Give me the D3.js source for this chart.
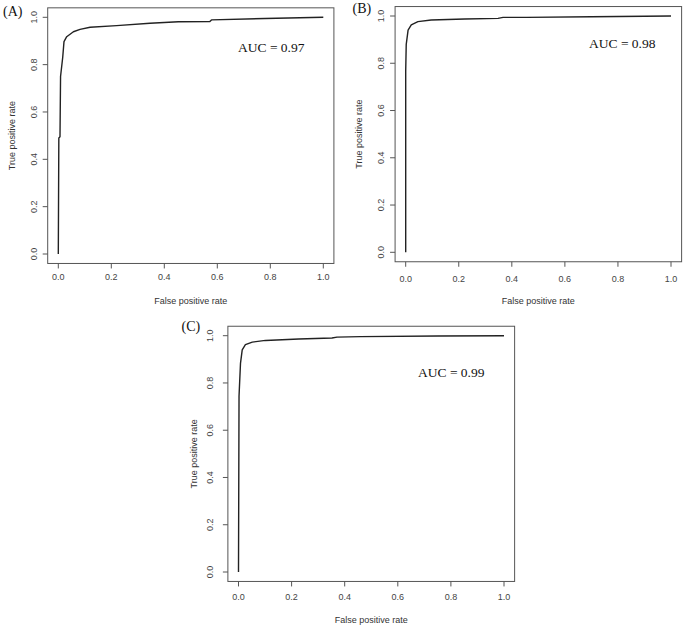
<!DOCTYPE html>
<html>
<head>
<meta charset="utf-8">
<script src="https://cdn.jsdelivr.net/npm/d3@7"></script>
<style>
    body { margin: 0; background: #fff; }
    svg { display: block; }
    .tick-label { font-family: "Liberation Sans", Arial, sans-serif; font-size: 9px; fill: #444; }
    .axis-title { font-family: "Liberation Sans", Arial, sans-serif; font-size: 9px; fill: #333; }
    .panel-tag { font-family: "Liberation Serif", "Times New Roman", serif; font-size: 14px; fill: #111; }
    .auc { font-family: "Liberation Serif", "Times New Roman", serif; font-size: 13.5px; fill: #111; }
</style>
</head>
<body>
<svg id="chart" width="686" height="628"></svg>
<script>
// ROC curve points
var fprA = [0, 0.002, 0.0064, 0.0085, 0.0166, 0.0215, 0.0317, 0.057, 0.082, 0.12, 0.22, 0.346, 0.453, 0.572, 0.578, 0.78, 1.0];
var tprA = [0, 0.49, 0.495, 0.75, 0.83, 0.897, 0.918, 0.939, 0.949, 0.958, 0.965, 0.975, 0.981, 0.982, 0.989, 0.995, 1.0];

var fprB = [0, 0, 0.002, 0.009, 0.021, 0.046, 0.096, 0.222, 0.348, 0.367, 0.455, 0.7, 1.0];
var tprB = [0, 0.767, 0.88, 0.94, 0.962, 0.976, 0.983, 0.987, 0.99, 0.994, 0.994, 0.997, 1.0];

var fprC = [0, 0.002, 0.0075, 0.014, 0.026, 0.052, 0.1015, 0.227, 0.352, 0.371, 0.459, 0.75, 1.0];
var tprC = [0, 0.744, 0.883, 0.94, 0.962, 0.973, 0.98, 0.986, 0.99, 0.994, 0.996, 0.999, 1.0];

var tickValues = [0, 0.2, 0.4, 0.6, 0.8, 1.0];
var panelTags = ["(A)", "(B)", "(C)"];
var aucLabels = ["AUC = 0.97", "AUC = 0.98", "AUC = 0.99"];

// pixel layout of each panel: where 0 and 1 sit on each axis
var panels = [
    { fpr: fprA, tpr: tprA, x0: 58.3, x1: 323.3, y0: 254, y1: 17.3,
      tag: [3, 16], auc: [238, 51.5], tickY: 280, titleY: 304, yTitleX: 12, yTickX: 33.5 },
    { fpr: fprB, tpr: tprB, x0: 405.7, x1: 671, y0: 252.3, y1: 16,
      tag: [352.5, 13], auc: [589, 48], tickY: 281.5, titleY: 304, yTitleX: 358.5, yTickX: 381 },
    { fpr: fprC, tpr: tprC, x0: 238.5, x1: 504, y0: 572, y1: 335.7,
      tag: [181.5, 331], auc: [418, 377], tickY: 600, titleY: 623, yTitleX: 193.5, yTickX: 209.5 }
];

var svg = d3.select("#chart");

panels.forEach(function (p, i) {
    var x = d3.scaleLinear().domain([0, 1]).range([p.x0, p.x1]);
    var y = d3.scaleLinear().domain([0, 1]).range([p.y0, p.y1]);
    var g = svg.append("g");

    // R style box, padded 4% around the data range
    g.append("rect")
        .attr("x", x(-0.04))
        .attr("y", y(1.04))
        .attr("width", x(1.04) - x(-0.04))
        .attr("height", y(-0.04) - y(1.04))
        .attr("fill", "none")
        .attr("stroke", "#555")
        .attr("stroke-width", 1);

    var bottom = y(-0.04);
    var left = x(-0.04);

    // x ticks
    g.selectAll(".xt").data(tickValues).enter().append("line")
        .attr("x1", function (d) { return x(d); })
        .attr("x2", function (d) { return x(d); })
        .attr("y1", bottom)
        .attr("y2", bottom + 5)
        .attr("stroke", "#555");
    g.selectAll(".xl").data(tickValues).enter().append("text")
        .attr("class", "tick-label")
        .attr("x", function (d) { return x(d); })
        .attr("y", p.tickY)
        .attr("text-anchor", "middle")
        .text(function (d) { return d.toFixed(1); });

    // y ticks, labels rotated like R's default
    g.selectAll(".yt").data(tickValues).enter().append("line")
        .attr("x1", left - 5)
        .attr("x2", left)
        .attr("y1", function (d) { return y(d); })
        .attr("y2", function (d) { return y(d); })
        .attr("stroke", "#555");
    g.selectAll(".yl").data(tickValues).enter().append("text")
        .attr("class", "tick-label")
        .attr("transform", function (d) { return "translate(" + (p.yTickX + 3) + "," + y(d) + ") rotate(-90)"; })
        .attr("text-anchor", "middle")
        .text(function (d) { return d.toFixed(1); });

    // axis titles
    g.append("text")
        .attr("class", "axis-title")
        .attr("x", (p.x0 + p.x1) / 2)
        .attr("y", p.titleY)
        .attr("text-anchor", "middle")
        .text("False positive rate");
    g.append("text")
        .attr("class", "axis-title")
        .attr("transform", "translate(" + (p.yTitleX + 3) + "," + ((p.y0 + p.y1) / 2) + ") rotate(-90)")
        .attr("text-anchor", "middle")
        .text("True positive rate");

    // curve
    var pts = p.fpr.map(function (f, k) { return [f, p.tpr[k]]; });
    var line = d3.line()
        .x(function (d) { return x(d[0]); })
        .y(function (d) { return y(d[1]); });
    g.append("path")
        .attr("d", line(pts))
        .attr("fill", "none")
        .attr("stroke", "#222")
        .attr("stroke-width", 1.4)
        .attr("stroke-linejoin", "round");

    // panel tag and AUC
    g.append("text")
        .attr("class", "panel-tag")
        .attr("x", p.tag[0])
        .attr("y", p.tag[1])
        .text(panelTags[i]);
    g.append("text")
        .attr("class", "auc")
        .attr("x", p.auc[0])
        .attr("y", p.auc[1])
        .text(aucLabels[i]);
});
</script>
</body>
</html>
